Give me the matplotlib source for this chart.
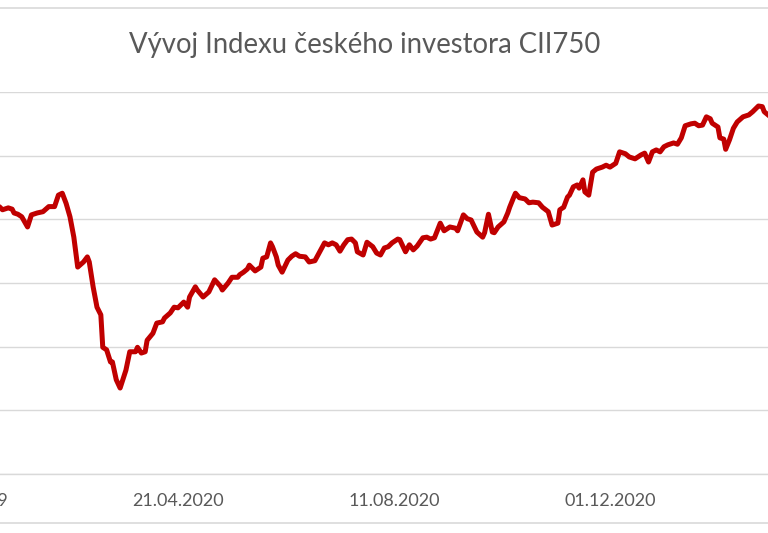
import matplotlib
matplotlib.use('Agg')
import matplotlib.pyplot as plt
import matplotlib.dates as mdates
from matplotlib.patches import Rectangle
import pandas as pd

# days since 31.12.2019 and index value
days = [20, 21, 24, 26, 27, 29, 31, 34, 36, 39, 42, 45, 48, 50, 52, 54, 56, 58, 60, 63,
        65, 66, 68, 70, 72, 73, 75, 77, 78, 80, 82, 85, 87, 90, 91, 93, 95, 96, 99, 101,
        104, 105, 108, 110, 112, 115, 117, 118, 121, 122, 125, 128, 131, 134, 135, 138, 140, 143, 144, 146,
        148, 149, 152, 155, 156, 158, 160, 161, 163, 164, 166, 169, 171, 173, 175, 178, 180, 183, 186, 188,
        190, 192, 194, 196, 198, 200, 202, 204, 205, 208, 210, 213, 215, 217, 219, 221, 223, 226, 227, 230,
        232, 234, 236, 239, 241, 243, 245, 248, 250, 253, 256, 257, 260, 262, 264, 267, 270, 271, 273, 275,
        276, 278, 281, 283, 284, 286, 287, 289, 292, 294, 296, 299, 301, 304, 306, 309, 310, 312, 314, 315,
        317, 319, 320, 322, 323, 325, 327, 329, 332, 334, 336, 339, 341, 344, 346, 349, 352, 354, 356, 358,
        360, 362, 364, 366, 369, 371, 373, 375, 378, 380, 382, 384, 386, 388, 389, 392, 393, 395, 396, 398,
        400, 402, 405, 408, 410, 413, 415, 416, 418]
values = [1018, 1015, 1018, 1016, 1010, 1008, 1004, 988, 1007, 1010, 1012, 1020, 1020, 1038, 1041, 1025, 1004, 972, 925, 933,
          941, 933, 894, 862, 850, 799, 795, 776, 776, 748, 735, 763, 792, 792, 799, 790, 792, 810, 821, 837,
          839, 845, 853, 862, 861, 870, 862, 878, 894, 889, 878, 886, 905, 895, 889, 900, 909, 909, 913, 917,
          922, 928, 919, 925, 939, 941, 963, 957, 941, 928, 917, 936, 942, 946, 942, 941, 933, 935, 952, 963,
          960, 963, 960, 950, 960, 968, 969, 963, 949, 944, 964, 957, 947, 944, 955, 957, 963, 969, 968, 949,
          960, 952, 958, 971, 972, 969, 971, 994, 982, 988, 986, 982, 1007, 1001, 999, 980, 972, 979, 1008, 980,
          979, 988, 996, 1010, 1019, 1034, 1041, 1034, 1032, 1026, 1027, 1026, 1019, 1012, 991, 994, 1015, 1019, 1035, 1038,
          1051, 1054, 1049, 1062, 1043, 1038, 1074, 1079, 1082, 1085, 1082, 1088, 1106, 1103, 1098, 1095, 1101, 1104, 1090, 1106,
          1109, 1106, 1114, 1117, 1120, 1118, 1128, 1147, 1150, 1151, 1147, 1148, 1161, 1158, 1151, 1145, 1128, 1126, 1110, 1125,
          1143, 1153, 1161, 1164, 1169, 1178, 1177, 1169, 1164]

start = pd.Timestamp('2019-12-31')
dates = start + pd.to_timedelta(days, unit='D')
tick_dates = pd.date_range('2019-12-31', periods=4, freq='112D')

plt.rcParams['font.family'] = ['Lato', 'DejaVu Sans']

fig = plt.figure(figsize=(7.68, 5.33), dpi=100)
# chart area is cropped on both sides, so the axes run past the figure edges
ax = fig.add_axes([-60 / 768, 59 / 533, 890 / 768, 382 / 533])

ax.plot(dates, values, color='#C00000', linewidth=3.6, solid_joinstyle='round', zorder=3)

ax.set_xlim(start + pd.Timedelta(days=-11.4), start + pd.Timedelta(days=450.1))
ax.set_ylim(600, 1200)
ax.set_yticks(range(600, 1201, 100))
ax.set_yticklabels([])
ax.set_xticks(tick_dates)
ax.xaxis.set_major_formatter(mdates.DateFormatter('%d.%m.%Y'))

ax.grid(axis='y', color='#D9D9D9', linewidth=1)
ax.tick_params(axis='both', length=0, colors='#595959', labelsize=13)
ax.tick_params(axis='x', pad=14)
for s in ['top', 'left', 'right']:
    ax.spines[s].set_visible(False)
ax.spines['bottom'].set_color('#D9D9D9')
ax.spines['bottom'].set_linewidth(1)

fig.text(365 / 768, 1 - 45 / 533, 'Vývoj Indexu českého investora CII750',
         ha='center', va='center', fontsize=19.8, color='#595959')

# chart border (top and bottom edges visible)
fig.add_artist(Rectangle((-0.01, 10 / 533), 1.02, 515 / 533, transform=fig.transFigure,
                         fill=False, edgecolor='#D9D9D9', linewidth=1.2))

fig.savefig('out.png', dpi=100)
